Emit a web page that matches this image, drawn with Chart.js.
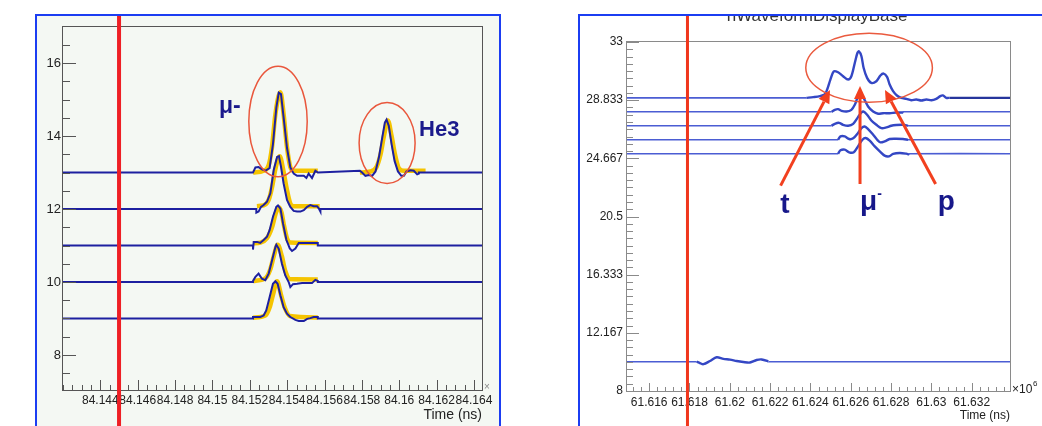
<!DOCTYPE html>
<html>
<head>
<meta charset="utf-8">
<script src="https://cdn.jsdelivr.net/npm/chart.js@4.4.1/dist/chart.umd.min.js"></script>
<style>
  body { margin: 0; width: 1042px; height: 426px; overflow: hidden; background: #fff; position: relative; }
  .box { position: absolute; box-sizing: border-box; border: 2px solid #1b3df2; }
  #boxL { left: 35px; top: 14px; width: 466px; height: 440px; background: #f4f8f3; }
  #boxR { left: 578px; top: 14px; width: 500px; height: 440px; background: #fff; }
  canvas { position: absolute; top: 0; }
  #left { left: 0; }
  #right { left: 540px; }
</style>
</head>
<body>
<div class="box" id="boxL"></div>
<div class="box" id="boxR"></div>
<canvas id="left" width="520" height="426"></canvas>
<canvas id="right" width="502" height="426"></canvas>
<script>
// ---- left panel: axes ----
const xRangeL = [84.142, 84.16443];
const yRangeL = [7.04, 16.99];
const xTicksL = [84.144, 84.146, 84.148, 84.15, 84.152, 84.154, 84.156, 84.158, 84.16, 84.162, 84.164];
const xTickLabelsL = ["84.144", "84.146", "84.148", "84.15", "84.152", "84.154", "84.156", "84.158", "84.16", "84.162", "84.164"];
const yTicksL = [8, 10, 12, 14, 16];
const yTickLabelsL = ["8", "10", "12", "14", "16"];

// ---- left panel: waveforms (time, amplitude) ----
const baseL = [13, 12, 11, 10, 9];
const tL13 = [84.15217, 84.1523, 84.15247, 84.15265, 84.15283, 84.15306, 84.15324, 84.15342, 84.15355, 84.15367, 84.15381, 84.15399, 84.15417, 84.15435, 84.15453, 84.15489, 84.15503, 84.15515, 84.15533, 84.15551, 84.15564,
  84.15789, 84.15801, 84.15819, 84.15837, 84.15855, 84.15873, 84.15891, 84.15909, 84.15923, 84.15932, 84.15944, 84.15959, 84.15975, 84.15993, 84.16011, 84.16025, 84.16039, 84.16061, 84.16078, 84.16096, 84.16105];
const vL13 = [13.0, 13.14, 13.15, 13.09, 13.05, 13.12, 13.78, 14.78, 15.19, 15.15, 14.51, 13.68, 13.14, 12.97, 12.91, 12.91, 12.85, 12.97, 12.85, 13.05, 13.0,
  13.05, 13.0, 12.91, 12.93, 12.91, 13.03, 13.41, 13.96, 14.37, 14.45, 14.28, 13.78, 13.32, 13.03, 12.91, 12.91, 13.03, 13.06, 13.05, 12.95, 12.97];
const tL12 = [84.15235, 84.15247, 84.1526, 84.15274, 84.15292, 84.1531, 84.15328, 84.15346, 84.15356, 84.15367, 84.15381, 84.15399, 84.15417, 84.15435, 84.15453, 84.15471, 84.15489, 84.15507, 84.15524, 84.15542, 84.1556, 84.15569, 84.15578];
const vL12 = [11.9, 11.93, 12.06, 12.11, 12.2, 12.43, 13.07, 13.43, 13.45, 13.16, 12.7, 12.25, 12.06, 11.95, 11.93, 11.93, 11.97, 12.06, 12.11, 12.08, 12.08, 12.02, 11.93];
const tL11 = [84.15217, 84.15221, 84.15239, 84.15256, 84.15274, 84.15292, 84.15306, 84.15324, 84.15342, 84.15351, 84.15364, 84.15378, 84.15396, 84.15414, 84.15426, 84.15444, 84.15462, 84.1548, 84.15564];
const vL11 = [10.89, 11.1, 11.1, 11.07, 11.15, 11.24, 11.42, 11.79, 12.06, 12.1, 12.01, 11.6, 11.15, 10.92, 10.85, 10.92, 11.07, 11.07, 11.07];
const tL10 = [84.15217, 84.1523, 84.15247, 84.15265, 84.15283, 84.15301, 84.15319, 84.15337, 84.15342, 84.15355, 84.15372, 84.1539, 84.15408, 84.15417, 84.15431, 84.15453, 84.1548, 84.15533, 84.15551, 84.15564];
const vL10 = [10.03, 10.14, 10.23, 10.09, 10.05, 10.23, 10.59, 10.96, 11.02, 10.91, 10.5, 10.18, 10.0, 9.86, 9.94, 9.95, 9.97, 9.97, 10.06, 10.03];
const tL9 = [84.15217, 84.15239, 84.15256, 84.15274, 84.15288, 84.15306, 84.15324, 84.15337, 84.15349, 84.15364, 84.15381, 84.15399, 84.15417, 84.15444, 84.15462, 84.15489, 84.15507, 84.15524, 84.15542, 84.15564];
const vL9 = [9.04, 9.04, 9.04, 9.08, 9.22, 9.58, 9.95, 10.02, 9.95, 9.63, 9.31, 9.13, 9.04, 8.96, 8.93, 8.93, 8.99, 9.01, 9.04, 9.04];

// ---- left panel: fitted pulses (yellow) ----
const tFitMu13 = [84.15217, 84.15274, 84.15301, 84.15319, 84.15337, 84.15364, 84.15381, 84.15399, 84.15417, 84.15435, 84.15564];
const vFitMu13 = [13.0, 13.05, 13.2, 13.7, 14.6, 15.2, 14.6, 13.7, 13.15, 13.05, 13.05];
const tFitHe13 = [84.15789, 84.15846, 84.15878, 84.159, 84.15918, 84.15939, 84.15959, 84.15977, 84.15998, 84.16025, 84.16141];
const vFitHe13 = [13.0, 13.03, 13.15, 13.5, 14.0, 14.43, 14.0, 13.5, 13.12, 13.05, 13.05];
const tFit12 = [84.15238, 84.15274, 84.15301, 84.15319, 84.15337, 84.1536, 84.15378, 84.15396, 84.15417, 84.15435, 84.15574];
const vFit12 = [12.08, 12.1, 12.25, 12.6, 13.1, 13.45, 13.1, 12.6, 12.15, 12.08, 12.08];
const tFit11 = [84.15217, 84.15256, 84.15292, 84.15319, 84.15337, 84.15355, 84.1537, 84.15381, 84.15399, 84.15417, 84.15564];
const vFit11 = [11.06, 11.08, 11.2, 11.5, 11.85, 12.05, 11.9, 11.6, 11.2, 11.08, 11.07];
const tFit10 = [84.15217, 84.15283, 84.1531, 84.15328, 84.15349, 84.15372, 84.1539, 84.15414, 84.15564];
const vFit10 = [10.03, 10.1, 10.35, 10.7, 11.02, 10.7, 10.3, 10.08, 10.07];
const tFit9 = [84.15217, 84.15283, 84.15306, 84.15324, 84.15346, 84.15367, 84.15387, 84.15414, 84.15564];
const vFit9 = [9.02, 9.08, 9.3, 9.65, 10.02, 9.65, 9.3, 9.07, 9.03];

// ---- right panel: axes ----
const xRangeR = [61.6149, 61.6339];
const yRangeR = [8, 33];
const xTicksR = [61.616, 61.618, 61.62, 61.622, 61.624, 61.626, 61.628, 61.63, 61.632];
const xTickLabelsR = ["61.616", "61.618", "61.62", "61.622", "61.624", "61.626", "61.628", "61.63", "61.632"];
const yTicksR = [8, 12.1667, 16.3333, 20.5, 24.6667, 28.8333, 33];
const yTickLabelsR = ["8", "12.167", "16.333", "20.5", "24.667", "28.833", "33"];

// ---- right panel: waveforms ----
const baseR = [29, 28, 27, 26, 25, 10.1];
const tR29 = [61.6238, 61.62414, 61.62447, 61.62471, 61.62483, 61.62499, 61.62516, 61.62537, 61.62562, 61.62587, 61.62603, 61.6262, 61.62633, 61.62641, 61.62653, 61.62664, 61.62681, 61.62702, 61.62727,
  61.62747, 61.62763, 61.6278, 61.62793, 61.6281, 61.62829, 61.62851, 61.62876, 61.629, 61.62925, 61.6295, 61.62975, 61.63, 61.63024, 61.63044, 61.63057, 61.63074, 61.6309];
const vR29 = [29.0, 29.05, 29.12, 29.24, 29.6, 30.31, 30.9, 30.83, 30.55, 30.31, 30.55, 31.5, 32.21, 32.33, 31.98, 31.14, 30.43, 30.07, 30.19,
  30.6, 30.74, 30.5, 29.95, 29.48, 29.17, 29.0, 28.93, 28.83, 28.88, 28.81, 28.88, 28.83, 28.93, 29.12, 29.17, 29.0, 29.0];
const tR28 = [61.62504, 61.62521, 61.62537, 61.62554, 61.62579, 61.62603, 61.6262, 61.62636, 61.62649, 61.62664, 61.62686, 61.62711, 61.62736, 61.6276, 61.62793, 61.62826, 61.62859];
const vR28 = [28.0, 28.14, 28.19, 28.07, 28.02, 28.14, 28.5, 29.1, 29.29, 28.98, 28.38, 28.02, 27.86, 27.9, 27.9, 27.95, 27.95];
const tR27 = [61.62504, 61.62521, 61.62542, 61.62562, 61.62587, 61.62612, 61.62636, 61.62653, 61.62664, 61.62681, 61.62702, 61.62727, 61.62752, 61.62777, 61.62801, 61.62826, 61.62859, 61.62884];
const vR27 = [27.0, 27.14, 27.21, 27.07, 27.0, 27.14, 27.62, 27.95, 28.02, 27.79, 27.38, 27.07, 26.83, 26.88, 27.0, 27.05, 27.07, 27.0];
const tR26 = [61.62537, 61.62549, 61.6257, 61.62592, 61.62612, 61.62636, 61.62653, 61.62669, 61.62686, 61.62711, 61.62731, 61.62747, 61.62768, 61.62793, 61.62826, 61.62859, 61.62884];
const vR26 = [26.0, 26.24, 26.24, 26.05, 26.1, 26.48, 26.83, 26.95, 26.76, 26.36, 26.0, 25.81, 25.88, 26.05, 26.07, 26.05, 26.0];
const tR25 = [61.62537, 61.62549, 61.6257, 61.62592, 61.62615, 61.62636, 61.62658, 61.62674, 61.62694, 61.62719, 61.62744, 61.62768, 61.6279, 61.6281, 61.62843, 61.62876, 61.62889];
const vR25 = [25.0, 25.24, 25.29, 25.1, 25.1, 25.52, 26.0, 26.12, 25.93, 25.52, 25.17, 24.86, 24.81, 24.98, 25.05, 25.0, 24.95];
const tR10 = [61.61836, 61.61852, 61.61869, 61.61902, 61.61935, 61.61968, 61.62001, 61.62034, 61.62067, 61.621, 61.62133, 61.62158, 61.62191];
const vR10 = [10.1, 10.0, 9.92, 10.15, 10.42, 10.3, 10.25, 10.15, 10.08, 10.04, 10.22, 10.26, 10.12];

// ---- annotations, in data units ----
const redLineL = 84.145;
const redLineR = 61.6179;

// waveform that sits flat on its baseline outside the pulse window
function trace(ts, vs, base, range) {
  const last = ts.length - 1;
  return [
    { x: range[0], y: base },
    { x: ts[0], y: base },
    ...ts.map((t, i) => ({ x: t, y: vs[i] })),
    { x: ts[last], y: base },
    { x: range[1], y: base },
  ];
}
function points(ts, vs) {
  return ts.map((t, i) => ({ x: t, y: vs[i] }));
}

function axis(range, ticks, labels, size, pad, fit) {
  return {
    type: "linear",
    min: range[0],
    max: range[1],
    grid: { display: false, drawTicks: false },
    border: { display: false },
    afterBuildTicks: (s) => { s.ticks = ticks.map((v) => ({ value: v })); },
    afterFit: fit,
    ticks: {
      autoSkip: false,
      maxRotation: 0,
      padding: pad,
      color: "#222",
      font: { family: "Liberation Sans", size: size },
      callback: (v, i) => labels[i],
    },
  };
}

// ROOT style frame with ticks pointing into the plot
const rootAxes = {
  id: "rootAxes",
  afterDatasetsDraw(chart, args, o) {
    const { ctx, chartArea: a } = chart;
    const x = chart.scales.x;
    const y = chart.scales.y;
    const near = (v, list, eps) => list.some((m) => Math.abs(m - v) < eps);
    ctx.save();
    ctx.strokeStyle = o.color;
    ctx.lineWidth = 1;
    ctx.strokeRect(a.left - 0.5, a.top - 0.5, a.right - a.left + 1, a.bottom - a.top + 1);
    ctx.beginPath();
    for (let i = 0; ; i++) {
      const v = o.xMinorFrom + i * o.xMinorStep;
      if (v > x.max + 1e-9) break;
      const len = near(v, o.xMajor, o.xMinorStep / 10) ? o.xMajorLen : o.xMinorLen;
      const px = Math.round(x.getPixelForValue(v)) + 0.5;
      ctx.moveTo(px, a.bottom);
      ctx.lineTo(px, a.bottom - len);
    }
    for (let i = 0; ; i++) {
      const v = o.yMinorFrom + i * o.yMinorStep;
      if (v > y.max + 1e-9) break;
      if (v < y.min) continue;
      const len = near(v, o.yMajor, o.yMinorStep / 10) ? o.yMajorLen : o.yMinorLen;
      const py = Math.round(y.getPixelForValue(v)) + 0.5;
      ctx.moveTo(a.left, py);
      ctx.lineTo(a.left + len, py);
    }
    ctx.stroke();
    ctx.restore();
  },
};

function ellipse(ctx, x, y, e) {
  const cx = x.getPixelForValue(e[0]);
  const cy = y.getPixelForValue(e[1]);
  const rx = x.getPixelForValue(e[0] + e[2]) - cx;
  const ry = cy - y.getPixelForValue(e[1] + e[3]);
  ctx.beginPath();
  ctx.ellipse(cx, cy, rx, ry, 0, 0, Math.PI * 2);
  ctx.stroke();
}

function arrow(ctx, x0, y0, x1, y1) {
  const ang = Math.atan2(y1 - y0, x1 - x0);
  const head = 13, half = 6;
  const bx = x1 - head * Math.cos(ang);
  const by = y1 - head * Math.sin(ang);
  ctx.beginPath();
  ctx.moveTo(x0, y0);
  ctx.lineTo(bx, by);
  ctx.stroke();
  ctx.beginPath();
  ctx.moveTo(x1, y1);
  ctx.lineTo(bx + half * Math.sin(ang), by - half * Math.cos(ang));
  ctx.lineTo(bx - half * Math.sin(ang), by + half * Math.cos(ang));
  ctx.closePath();
  ctx.fill();
}

const notesL = {
  id: "notesL",
  afterDraw(chart) {
    const { ctx, chartArea: a } = chart;
    const x = chart.scales.x;
    const y = chart.scales.y;
    ctx.save();
    const rx = x.getPixelForValue(redLineL);
    ctx.strokeStyle = "#ee1f24";
    ctx.lineWidth = 4;
    ctx.beginPath();
    ctx.moveTo(rx, 16);
    ctx.lineTo(rx, chart.height);
    ctx.stroke();

    ctx.strokeStyle = "#e9573c";
    ctx.lineWidth = 1.5;
    ellipse(ctx, x, y, [84.15351, 14.4, 0.001563, 1.515]);
    ellipse(ctx, x, y, [84.15935, 13.81, 0.001499, 1.11]);

    ctx.fillStyle = "#1b1a8c";
    ctx.font = "bold 23px 'Liberation Sans'";
    ctx.textAlign = "left";
    ctx.textBaseline = "alphabetic";
    ctx.fillText("μ-", x.getPixelForValue(84.15035), y.getPixelForValue(14.62));
    ctx.font = "bold 22px 'Liberation Sans'";
    ctx.fillText("He3", x.getPixelForValue(84.16106), y.getPixelForValue(14.0));

    ctx.fillStyle = "#222";
    ctx.font = "14px 'Liberation Sans'";
    ctx.textAlign = "right";
    ctx.fillText("Time (ns)", a.right, 419);
    ctx.fillStyle = "#888";
    ctx.font = "10px 'Liberation Sans'";
    ctx.textAlign = "left";
    ctx.fillText("×", a.right + 2, 390);
    ctx.restore();
  },
};

const notesR = {
  id: "notesR",
  afterDraw(chart) {
    const { ctx, chartArea: a } = chart;
    const x = chart.scales.x;
    const y = chart.scales.y;
    ctx.save();
    // half hidden histogram title
    ctx.save();
    ctx.beginPath();
    ctx.rect(0, 16, chart.width, 30);
    ctx.clip();
    ctx.fillStyle = "#333";
    ctx.font = "17px 'Liberation Sans'";
    ctx.textAlign = "center";
    ctx.fillText("hWaveformDisplayBase", x.getPixelForValue(61.62433), 21);
    ctx.restore();

    const rx = x.getPixelForValue(redLineR);
    ctx.strokeStyle = "#f0361c";
    ctx.lineWidth = 3;
    ctx.beginPath();
    ctx.moveTo(rx, 16);
    ctx.lineTo(rx, chart.height);
    ctx.stroke();

    ctx.strokeStyle = "#ea5a3e";
    ctx.lineWidth = 1.5;
    ellipse(ctx, x, y, [61.62691, 31.15, 0.00314, 2.47]);

    ctx.strokeStyle = "#f2401f";
    ctx.fillStyle = "#f2401f";
    ctx.lineWidth = 3;
    [[61.62252, 22.71, 61.62497, 29.56], [61.62646, 22.83, 61.62646, 29.85], [61.63021, 22.83, 61.6277, 29.56]].forEach((r) =>
      arrow(ctx, x.getPixelForValue(r[0]), y.getPixelForValue(r[1]), x.getPixelForValue(r[2]), y.getPixelForValue(r[3]))
    );

    ctx.fillStyle = "#17188a";
    ctx.font = "bold 28px 'Liberation Sans'";
    ctx.textAlign = "center";
    ctx.fillText("t", x.getPixelForValue(61.62273), y.getPixelForValue(20.72));
    ctx.textAlign = "left";
    const mx = x.getPixelForValue(61.62646);
    const my = y.getPixelForValue(20.97);
    ctx.fillText("μ", mx, my);
    const mw = ctx.measureText("μ").width;
    ctx.font = "bold 14px 'Liberation Sans'";
    ctx.fillText("-", mx + mw, my - 12);
    ctx.font = "bold 28px 'Liberation Sans'";
    ctx.fillText("p", x.getPixelForValue(61.63031), my);

    ctx.fillStyle = "#222";
    ctx.font = "12px 'Liberation Sans'";
    ctx.textAlign = "right";
    ctx.fillText("Time (ns)", a.right, 419);
    ctx.textAlign = "left";
    ctx.fillText("×10", a.right + 2, 393);
    ctx.font = "8px 'Liberation Sans'";
    ctx.fillText("6", a.right + 23, 386);
    ctx.restore();
  },
};

// ---- left chart ----
const navy = "#1d20a0";
const yellow = "#f5c400";
const blueL = [[tL13, vL13], [tL12, vL12], [tL11, vL11], [tL10, vL10], [tL9, vL9]].map(([t, v], i) => ({
  data: trace(t, v, baseL[i], xRangeL),
  borderColor: navy,
  borderWidth: 2,
  tension: 0,
}));
const fitsL = [[tFitMu13, vFitMu13], [tFitHe13, vFitHe13], [tFit12, vFit12], [tFit11, vFit11], [tFit10, vFit10], [tFit9, vFit9]].map(([t, v]) => ({
  data: points(t, v),
  borderColor: yellow,
  borderWidth: 4.5,
  cubicInterpolationMode: "monotone",
}));

new Chart(document.getElementById("left"), {
  type: "line",
  data: { datasets: [...blueL, ...fitsL] },
  options: {
    responsive: false,
    animation: false,
    events: [],
    layout: { padding: { left: 0, top: 27, right: 38, bottom: 0 } },
    elements: { point: { radius: 0 } },
    plugins: {
      legend: { display: false },
      tooltip: { enabled: false },
      rootAxes: {
        color: "#555", xMajor: xTicksL, yMajor: yTicksL,
        xMinorFrom: 84.142, xMinorStep: 0.0005, yMinorFrom: 7.5, yMinorStep: 0.5,
        xMajorLen: 10, xMinorLen: 5, yMajorLen: 13, yMinorLen: 7,
      },
    },
    scales: {
      x: axis(xRangeL, xTicksL, xTickLabelsL, 12, 3, (s) => { s.height = 36; }),
      y: axis(yRangeL, yTicksL, yTickLabelsL, 13, 2, (s) => { s.width = 63; }),
    },
  },
  plugins: [rootAxes, notesL],
});

// ---- right chart ----
const traceBlue = "#3447c4";
const lineBlue = "#4b5dd3";
const wavesR = [[tR29, vR29], [tR28, vR28], [tR27, vR27], [tR26, vR26], [tR25, vR25], [tR10, vR10]].map(([t, v], i) => {
  const n = t.length + 4;
  const flat = (c) => c.p0DataIndex <= 1 || c.p1DataIndex >= n - 2;
  return {
    data: trace(t, v, baseR[i], xRangeR),
    borderColor: traceBlue,
    borderWidth: 2.4,
    tension: 0.3,
    segment: {
      borderColor: (c) => (flat(c) ? (i === 0 && c.p1DataIndex >= n - 2 ? "#26359c" : lineBlue) : undefined),
      borderWidth: (c) => (flat(c) ? (i === 0 && c.p1DataIndex >= n - 2 ? 2.4 : 1.6) : undefined),
    },
  };
});

new Chart(document.getElementById("right"), {
  type: "line",
  data: { datasets: wavesR },
  options: {
    responsive: false,
    animation: false,
    events: [],
    layout: { padding: { left: 0, top: 42, right: 32, bottom: 0 } },
    elements: { point: { radius: 0 } },
    plugins: {
      legend: { display: false },
      tooltip: { enabled: false },
      rootAxes: {
        color: "#8a8a8a", xMajor: xTicksR, yMajor: yTicksR,
        xMinorFrom: 61.6152, xMinorStep: 0.0004, yMinorFrom: 8, yMinorStep: 25 / 48,
        xMajorLen: 8, xMinorLen: 4, yMajorLen: 12, yMinorLen: 6,
      },
    },
    scales: {
      x: axis(xRangeR, xTicksR, xTickLabelsR, 12, 4, (s) => { s.height = 35; }),
      y: axis(yRangeR, yTicksR, yTickLabelsR, 12, 4, (s) => { s.width = 87; }),
    },
  },
  plugins: [rootAxes, notesR],
});
</script>
</body>
</html>
